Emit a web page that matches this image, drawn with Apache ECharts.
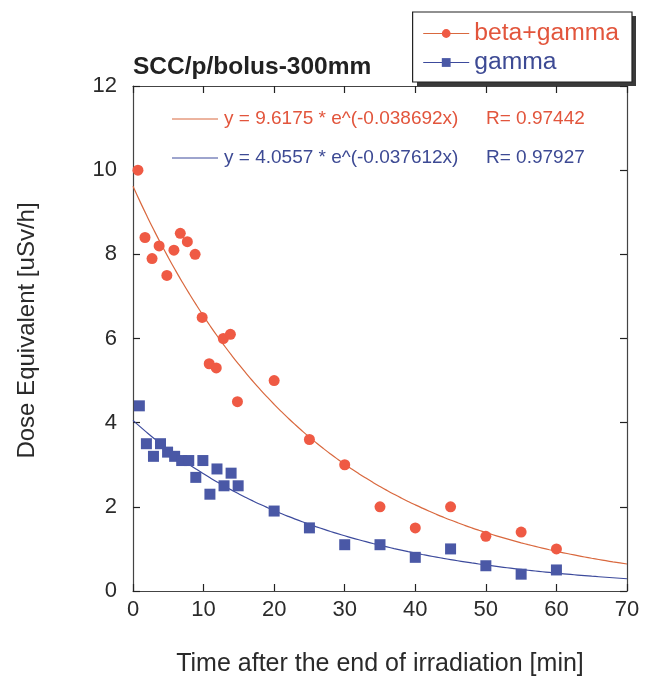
<!DOCTYPE html>
<html><head><meta charset="utf-8">
<script src="https://cdn.jsdelivr.net/npm/echarts@6/dist/echarts.min.js"></script>
<style>html,body{margin:0;padding:0;background:#fff}#c{width:654px;height:682px}</style>
</head><body><div id="c"></div>
<script>
// Data
var betaX = [0.7, 1.7, 2.7, 3.7, 4.8, 5.8, 6.7, 7.7, 8.8, 9.8, 10.8, 11.8, 12.8, 13.8, 14.8, 20, 25, 30, 35, 40, 45, 50, 55, 60];
var betaY = [10.0, 8.4, 7.9, 8.2, 7.5, 8.1, 8.5, 8.3, 8.0, 6.5, 5.4, 5.3, 6.0, 6.1, 4.5, 5.0, 3.6, 3.0, 2.0, 1.5, 2.0, 1.3, 1.4, 1.0];
var gammaX = [0.9, 1.9, 2.9, 3.9, 4.9, 5.9, 6.9, 7.9, 8.9, 9.9, 10.9, 11.9, 12.9, 13.9, 14.9, 20, 25, 30, 35, 40, 45, 50, 55, 60];
var gammaY = [4.4, 3.5, 3.2, 3.5, 3.3, 3.2, 3.1, 3.1, 2.7, 3.1, 2.3, 2.9, 2.5, 2.8, 2.5, 1.9, 1.5, 1.1, 1.1, 0.8, 1.0, 0.6, 0.4, 0.5];
// Fit coefficients printed on the chart
var betaFitA = 9.6175, betaFitB = -0.038692, betaR = '0.97442';
var gammaFitA = 4.0557, gammaFitB = -0.037612, gammaR = '0.97927';
var xTicks = [0, 10, 20, 30, 40, 50, 60, 70];
var yTicks = [0, 2, 4, 6, 8, 10, 12];
var seriesNames = ['beta+gamma', 'gamma'];
var titleText = 'SCC/p/bolus-300mm';
var xName = 'Time after the end of irradiation [min]';
var yName = 'Dose Equivalent [uSv/h]';

var RED = '#ef5a44', RED_LINE = '#d9683e', RED_TXT = '#e2553c';
var BLUE = '#4a58a6', BLUE_LINE = '#3c4a9c', BLUE_TXT = '#3d4a94';
var FONT = 'Liberation Sans, Arial, sans-serif';
var TXT = '#2a2a2a';

function pairs(xs, ys) { return xs.map(function (x, i) { return [x, ys[i]]; }); }
function fit(a, b) { var d = []; for (var x = 0; x <= 70; x += 1) d.push([x, a * Math.exp(b * x)]); return d; }

function axisBase(extra) {
  return Object.assign({
    type: 'value', min: 0,
    axisLine: { show: true, onZero: false, lineStyle: { color: '#444', width: 1.2 } },
    axisTick: { show: true, inside: true, length: 7, lineStyle: { color: '#222', width: 1.2 } },
    splitLine: { show: false }
  }, extra);
}
var chart = echarts.init(document.getElementById('c'), null, { renderer: 'canvas' });
chart.setOption({
  animation: false,
  backgroundColor: '#fff',
  textStyle: { fontFamily: FONT },
  title: { text: titleText, left: 128, top: 50, textStyle: { fontFamily: FONT, fontSize: 24.5, fontWeight: 'bold', color: '#222' } },
  grid: { left: 133, right: 27, top: 86, bottom: 91 },
  legend: {
    orient: 'vertical', right: 22, top: 12, z: 6,
    padding: [9, 13, 7, 10], itemGap: 4, itemWidth: 46, itemHeight: 11,
    backgroundColor: '#fff', borderColor: '#222', borderWidth: 1.2,
    lineStyle: { width: 1.2, opacity: 1 },
    textStyle: { fontFamily: FONT, fontSize: 24.7 },
    data: [
      { name: seriesNames[0], itemStyle: { color: RED }, lineStyle: { color: RED_LINE, width: 1.2, opacity: 1 }, textStyle: { color: RED_TXT } },
      { name: seriesNames[1], itemStyle: { color: BLUE }, lineStyle: { color: BLUE_LINE, width: 1.2, opacity: 1 }, textStyle: { color: BLUE_TXT } }
    ]
  },
  xAxis: [
    axisBase({ position: 'bottom', max: 70, interval: 10,
      name: xName, nameLocation: 'middle', nameGap: 61,
      nameTextStyle: { fontFamily: FONT, fontSize: 25, color: TXT },
      axisLabel: { fontFamily: FONT, fontSize: 22, color: TXT, margin: 8 } }),
    axisBase({ position: 'top', max: 70, interval: 10, axisLabel: { show: false } })
  ],
  yAxis: [
    axisBase({ position: 'left', max: 12, interval: 2,
      name: yName, nameLocation: 'middle', nameGap: 94,
      nameTextStyle: { fontFamily: FONT, fontSize: 24, color: TXT, padding: [0, 0, 0, 16] },
      axisLabel: { fontFamily: FONT, fontSize: 22, color: TXT, margin: 16 } }),
    axisBase({ position: 'right', max: 12, interval: 2, axisLabel: { show: false } })
  ],
  graphic: [
    // drop shadow behind the legend box
    { type: 'rect', z: 5, shape: { x: 417, y: 16, width: 219, height: 70 }, style: { fill: '#3a3a3a' } },
    { type: 'line', shape: { x1: 172, y1: 119, x2: 218, y2: 119 }, style: { stroke: RED_LINE, lineWidth: 1 } },
    { type: 'text', style: { x: 224, y: 119, textVerticalAlign: 'middle', text: 'y = ' + betaFitA + ' * e^(' + betaFitB + 'x)', fill: RED_TXT, font: '19px ' + FONT } },
    { type: 'text', style: { x: 486, y: 119, textVerticalAlign: 'middle', text: 'R= ' + betaR, fill: RED_TXT, font: '19px ' + FONT } },
    { type: 'line', shape: { x1: 172, y1: 158, x2: 218, y2: 158 }, style: { stroke: BLUE_LINE, lineWidth: 1 } },
    { type: 'text', style: { x: 224, y: 158, textVerticalAlign: 'middle', text: 'y = ' + gammaFitA + ' * e^(' + gammaFitB + 'x)', fill: BLUE_TXT, font: '19px ' + FONT } },
    { type: 'text', style: { x: 486, y: 158, textVerticalAlign: 'middle', text: 'R= ' + gammaR, fill: BLUE_TXT, font: '19px ' + FONT } }
  ],
  series: [
    { name: seriesNames[0] + ' fit', type: 'line', data: fit(betaFitA, betaFitB), showSymbol: false, smooth: true, lineStyle: { color: RED_LINE, width: 1.2 }, z: 2 },
    { name: seriesNames[1] + ' fit', type: 'line', data: fit(gammaFitA, gammaFitB), showSymbol: false, smooth: true, lineStyle: { color: BLUE_LINE, width: 1.2 }, z: 2 },
    { name: seriesNames[0], type: 'line', data: pairs(betaX, betaY), symbol: 'circle', symbolSize: 11, itemStyle: { color: RED }, lineStyle: { width: 0, opacity: 0 }, z: 3 },
    { name: seriesNames[1], type: 'line', data: pairs(gammaX, gammaY), symbol: 'rect', symbolSize: 11, itemStyle: { color: BLUE }, lineStyle: { width: 0, opacity: 0 }, z: 3 }
  ]
});
</script></body></html>
